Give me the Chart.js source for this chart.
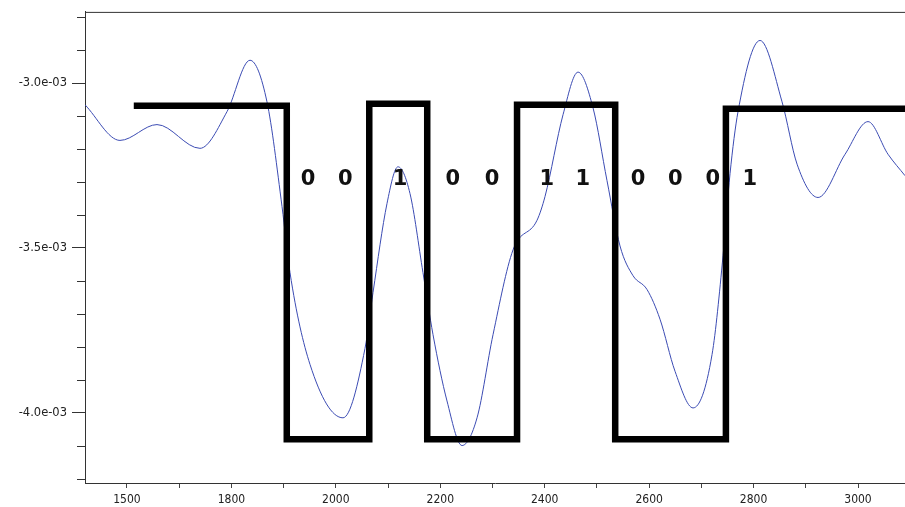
<!DOCTYPE html>
<html>
<head>
<meta charset="utf-8">
<script src="https://cdn.jsdelivr.net/npm/chart.js@4/dist/chart.umd.min.js"></script>
<style>
  html, body { margin: 0; padding: 0; background: #fff; overflow: hidden; }
  #chart { display: block; }
</style>
</head>
<body>
<canvas id="chart" width="905" height="507"></canvas>
<script>
// received signal (blue curve)
const signalX = [1519.6, 1586.6, 1657.5, 1739.8, 1791.5, 1835.6, 1868.1, 1896.9, 1912.2, 1950.5,
                 2013.7, 2055.8, 2071.2, 2098.0, 2119.0, 2142.0, 2166.9, 2186.1, 2212.9, 2241.6,
                 2270.4, 2301.0, 2339.3, 2385.3, 2400.6, 2435.1, 2463.8, 2492.5, 2519.3, 2544.2,
                 2569.1, 2595.9, 2620.8, 2649.6, 2684.1, 2720.5, 2741.5, 2754.9, 2770.2, 2812.4,
                 2854.5, 2883.3, 2923.5, 2975.2, 3019.2, 3057.5, 3090.1];
const signalY = [-3.066e-3, -3.174e-3, -3.126e-3, -3.198e-3, -3.087e-3, -2.931e-3, -3.057e-3, -3.374e-3, -3.575e-3, -3.853e-3,
                 -4.015e-3, -3.805e-3, -3.635e-3, -3.365e-3, -3.254e-3, -3.335e-3, -3.575e-3, -3.763e-3, -3.964e-3, -4.099e-3,
                 -4.015e-3, -3.763e-3, -3.506e-3, -3.416e-3, -3.344e-3, -3.096e-3, -2.967e-3, -3.075e-3, -3.296e-3, -3.494e-3,
                 -3.584e-3, -3.626e-3, -3.716e-3, -3.874e-3, -3.985e-3, -3.823e-3, -3.524e-3, -3.275e-3, -3.087e-3, -2.871e-3,
                 -3.057e-3, -3.246e-3, -3.347e-3, -3.216e-3, -3.117e-3, -3.216e-3, -3.281e-3];

// decoded square wave: edge positions and the level held after each edge
const squareX = [1613, 1906, 2064, 2175, 2347, 2535, 2747, 3100];
const squareY = [-3.069e-3, -4.080e-3, -3.063e-3, -4.080e-3, -3.066e-3, -4.080e-3, -3.078e-3, -3.078e-3];

// bit labels
const bits = ['0', '0', '1', '0', '0', '1', '1', '0', '0', '0', '1'];
const bitX = [1947, 2018, 2123, 2224, 2299, 2404, 2473, 2579, 2650, 2722, 2793];
const bitY = -3.293e-3;

// axes
const xTicks = [1600, 1700, 1800, 1900, 2000, 2100, 2200, 2300, 2400, 2500, 2600, 2700, 2800, 2900, 3000];
const xTickLabels = { 1600: '1500', 1800: '1800', 2000: '2000', 2200: '2200', 2400: '2400', 2600: '2600', 2800: '2800', 3000: '3000' };
const yTicks = [-4.2e-3, -4.1e-3, -4.0e-3, -3.9e-3, -3.8e-3, -3.7e-3, -3.6e-3, -3.5e-3, -3.4e-3, -3.3e-3,
                -3.2e-3, -3.1e-3, -3.0e-3, -2.9e-3, -2.8e-3];
const yMajor = [-4.0e-3, -3.5e-3, -3.0e-3];

function isMajorY(v) {
    return yMajor.some(m => Math.abs(m - v) < 1e-9);
}

function fmtY(v) {
    // -3.0e-03 style
    return v.toExponential(1).replace(/e([+-])(\d)$/, 'e$10$2');
}

// top frame line, short minor ticks on y, and the bit digits
const extras = {
    id: 'extras',
    afterDatasetsDraw(chart) {
        const ctx = chart.ctx;
        const area = chart.chartArea;
        const xs = chart.scales.x;
        const ys = chart.scales.y;
        ctx.save();
        ctx.strokeStyle = '#333';
        ctx.lineWidth = 1;
        ctx.beginPath();
        ctx.moveTo(area.left, area.top + 0.5);
        ctx.lineTo(area.right, area.top + 0.5);
        yTicks.forEach(v => {
            if (isMajorY(v)) return;
            const py = Math.round(ys.getPixelForValue(v)) + 0.5;
            ctx.moveTo(area.left - 8, py);
            ctx.lineTo(area.left, py);
        });
        ctx.stroke();

        ctx.fillStyle = '#111';
        ctx.font = 'bold 21px "DejaVu Sans", sans-serif';
        ctx.textAlign = 'center';
        ctx.textBaseline = 'middle';
        bits.forEach((b, i) => {
            ctx.fillText(b, xs.getPixelForValue(bitX[i]), ys.getPixelForValue(bitY));
        });
        ctx.restore();
    }
};

const squareData = squareX.map((x, i) => ({ x: x, y: squareY[i] }));
const signalData = signalX.map((x, i) => ({ x: x, y: signalY[i] }));

new Chart(document.getElementById('chart'), {
    type: 'line',
    data: {
        datasets: [
            {
                data: squareData,
                stepped: true,
                borderColor: '#000',
                borderWidth: 6.5,
                borderJoinStyle: 'miter',
                borderCapStyle: 'butt',
                pointRadius: 0,
                fill: false
            },
            {
                data: signalData,
                borderColor: '#3b4bb3',
                borderWidth: 1,
                cubicInterpolationMode: 'monotone',
                pointRadius: 0,
                fill: false
            }
        ]
    },
    options: {
        responsive: false,
        animation: false,
        devicePixelRatio: 1,
        layout: { padding: { top: 6, right: 0, left: 0, bottom: 0 } },
        plugins: {
            legend: { display: false },
            tooltip: { enabled: false }
        },
        scales: {
            x: {
                type: 'linear',
                min: 1519.6,
                max: 3090,
                afterBuildTicks(scale) {
                    scale.ticks = xTicks.map(v => ({ value: v }));
                },
                afterFit(scale) {
                    scale.height = 24;
                },
                ticks: {
                    autoSkip: false,
                    maxRotation: 0,
                    padding: 5,
                    color: '#222',
                    font: { family: '"Liberation Sans Narrow", "DejaVu Sans Condensed", sans-serif', size: 12 },
                    callback: v => xTickLabels[v] || ''
                },
                grid: {
                    drawOnChartArea: false,
                    drawTicks: true,
                    tickLength: 5,
                    tickColor: '#444'
                },
                border: { display: true, color: '#333', width: 1 }
            },
            y: {
                type: 'linear',
                min: -4.2126e-3,
                max: -2.7844e-3,
                afterBuildTicks(scale) {
                    scale.ticks = yTicks.map(v => ({ value: v }));
                },
                afterFit(scale) {
                    scale.width = 85;
                },
                ticks: {
                    autoSkip: false,
                    padding: 5,
                    color: '#222',
                    font: { family: '"DejaVu Sans", sans-serif', size: 11.5 },
                    callback: v => isMajorY(v) ? fmtY(v) : ''
                },
                grid: {
                    drawOnChartArea: false,
                    drawTicks: true,
                    tickLength: 13,
                    tickColor: ctx => isMajorY(ctx.tick.value) ? '#333' : 'rgba(0,0,0,0)'
                },
                border: { display: true, color: '#333', width: 1 }
            }
        }
    },
    plugins: [extras]
});
</script>
</body>
</html>
